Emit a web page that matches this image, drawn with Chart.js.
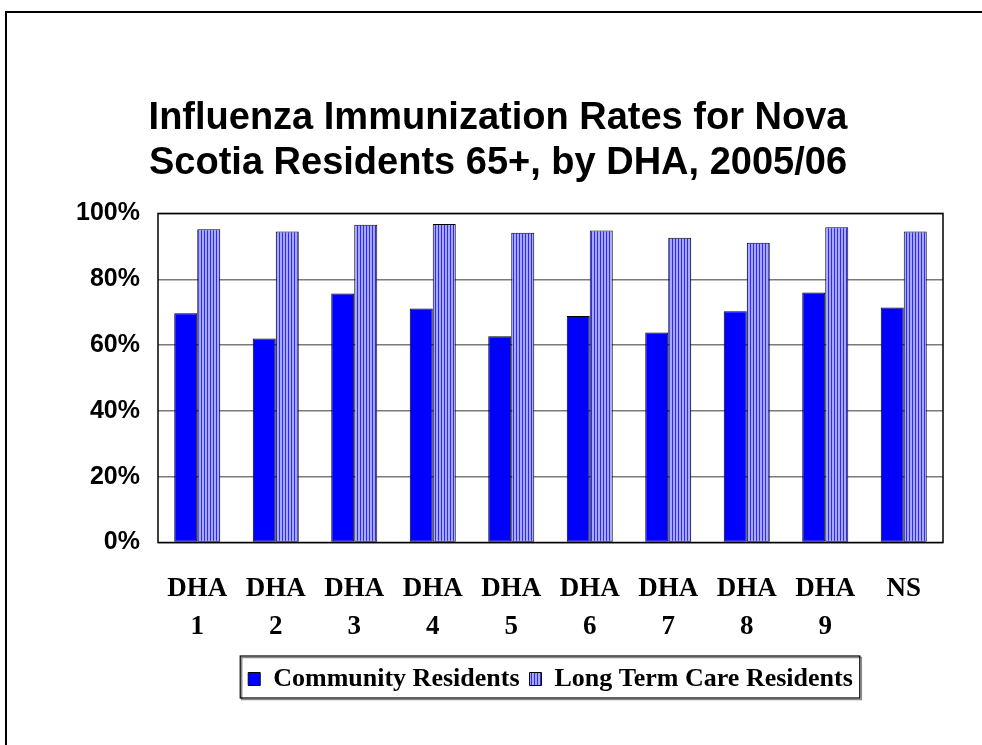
<!DOCTYPE html>
<html>
<head>
<meta charset="utf-8">
<title>Influenza Immunization Rates, Nova Scotia 2005/06</title>
<script src="https://cdn.jsdelivr.net/npm/chart.js@4.4.1/dist/chart.umd.min.js"></script>
<style>
  html, body { margin: 0; padding: 0; background: #fff; }
  #wrap { width: 982px; height: 745px; }
</style>
</head>
<body>
<div id="wrap"><canvas id="fluChart" width="982" height="745"></canvas></div>
<script>
// District health authorities plus the provincial total
const districts = [
  ['DHA', '1'], ['DHA', '2'], ['DHA', '3'], ['DHA', '4'], ['DHA', '5'],
  ['DHA', '6'], ['DHA', '7'], ['DHA', '8'], ['DHA', '9'], 'NS'
];
// % of residents 65+ immunized
const communityRates = [69.7, 62.0, 75.7, 71.1, 62.7, 68.8, 63.8, 70.3, 76.0, 71.4];
const longTermCareRates = [95.2, 94.5, 96.6, 96.8, 94.1, 94.8, 92.6, 91.1, 95.8, 94.5];
const rateTicks = [0, 20, 40, 60, 80, 100];

const serif = "'Liberation Serif', 'Times New Roman', serif";
const sans = "'Liberation Sans', Arial, sans-serif";

// vertical stripe fill for the long term care bars
function stripeFill() {
  const c = document.createElement('canvas');
  c.width = 3; c.height = 1;
  const g = c.getContext('2d');
  g.fillStyle = '#a8a8ff';
  g.fillRect(0, 0, 3, 1);
  g.fillStyle = '#2a2aff';
  g.fillRect(0, 0, 1, 1);
  return document.getElementById('fluChart').getContext('2d').createPattern(c, 'repeat');
}

const decorations = {
  id: 'decorations',
  beforeDraw(chart) {
    const ctx = chart.ctx;
    ctx.save();
    ctx.fillStyle = '#fff';
    ctx.fillRect(0, 0, chart.width, chart.height);
    // slide frame, open to the right and bottom
    ctx.strokeStyle = '#000';
    ctx.lineWidth = 2;
    ctx.beginPath();
    ctx.moveTo(6, chart.height + 5);
    ctx.lineTo(6, 12);
    ctx.lineTo(chart.width + 5, 12);
    ctx.stroke();
    ctx.restore();
  },
  afterLayout(chart) {
    // title centred on the slide, legend centred under the plot
    const area = chart.chartArea;
    chart.titleBlock.left = 0;
    chart.titleBlock.right = 996;
    chart.legend.left = area.left;
    chart.legend.right = area.right;
  },
  beforeDatasetsDraw(chart) {
    const {ctx, chartArea: a} = chart;
    ctx.save();
    ctx.strokeStyle = '#000';
    ctx.lineWidth = 1.5;
    ctx.strokeRect(a.left, a.top, a.right - a.left, a.bottom - a.top);
    ctx.restore();
  },
  afterDraw(chart) {
    const boxes = chart.legend.legendHitBoxes;
    if (!boxes || !boxes.length) return;
    const first = boxes[0];
    const last = boxes[boxes.length - 1];
    const ctx = chart.ctx;
    const x0 = first.left - 8;
    const x1 = last.left + last.width + 7;
    const y0 = chart.legend.top;
    const y1 = y0 + 42;
    ctx.save();
    ctx.strokeStyle = '#8a8a8a';
    ctx.lineWidth = 1.5;
    ctx.strokeRect(x0 + 1.5, y0 + 1.5, x1 - x0, y1 - y0);
    ctx.strokeStyle = '#000';
    ctx.lineWidth = 1.2;
    ctx.strokeRect(x0, y0, x1 - x0, y1 - y0);
    ctx.restore();
  }
};

new Chart(document.getElementById('fluChart'), {
  type: 'bar',
  data: {
    labels: districts,
    datasets: [
      {
        label: 'Community Residents',
        data: communityRates,
        backgroundColor: '#0000ff',
        borderColor: '#000',
        borderWidth: 1,
        borderSkipped: false
      },
      {
        label: 'Long Term Care Residents',
        data: longTermCareRates,
        backgroundColor: stripeFill(),
        borderColor: '#000',
        borderWidth: 1,
        borderSkipped: false
      }
    ]
  },
  options: {
    responsive: false,
    animation: false,
    devicePixelRatio: 1,
    layout: { padding: { left: 74, right: 39, top: 0, bottom: 43 } },
    datasets: { bar: { barPercentage: 1, categoryPercentage: 0.586 } },
    plugins: {
      title: {
        display: true,
        text: ['Influenza Immunization Rates for Nova', 'Scotia Residents 65+, by DHA, 2005/06'],
        color: '#000',
        font: { family: sans, size: 38, weight: 'bold', lineHeight: 1.19 },
        padding: { top: 96, bottom: 27 }
      },
      legend: {
        position: 'bottom',
        labels: {
          color: '#000',
          font: { family: serif, size: 26, weight: 'bold' },
          boxWidth: 12,
          boxHeight: 13,
          padding: 10
        }
      },
      tooltip: { enabled: false }
    },
    scales: {
      x: {
        grid: { display: false, drawTicks: false },
        border: { display: false },
        ticks: {
          color: '#000',
          padding: 27,
          maxRotation: 0,
          autoSkip: false,
          font: { family: serif, size: 27, weight: 'bold', lineHeight: 1.42 }
        },
        afterFit(scale) { scale.height = 113.5; }
      },
      y: {
        min: 0,
        max: 100,
        afterBuildTicks(scale) { scale.ticks = rateTicks.map(v => ({ value: v })); },
        grid: { color: '#7a7a7a', lineWidth: 1.5, drawTicks: false },
        border: { display: false },
        ticks: {
          color: '#000',
          padding: 18,
          font: { family: sans, size: 25, weight: 'bold' },
          callback: v => v + '%'
        },
        afterFit(scale) { scale.width = 84; }
      }
    }
  },
  plugins: [decorations]
});
</script>
</body>
</html>
